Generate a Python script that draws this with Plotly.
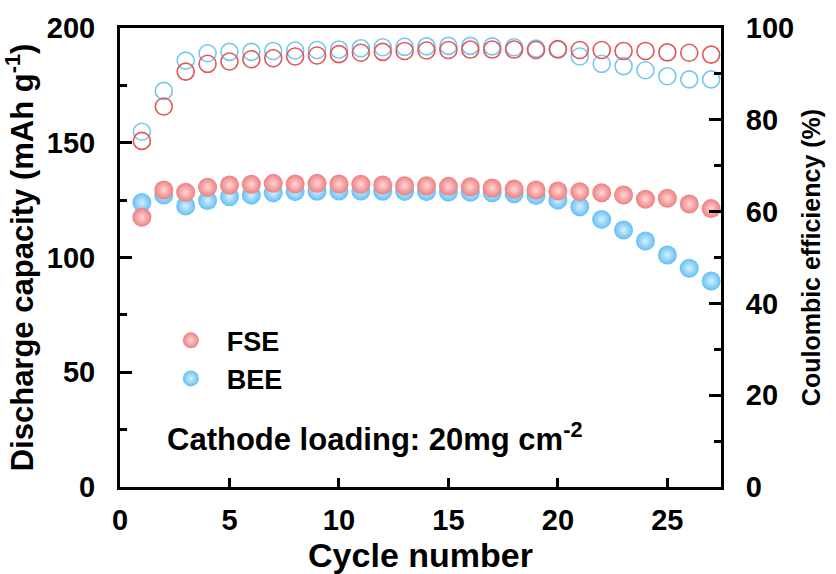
import plotly.graph_objects as go

cycles = list(range(1, 28))
fse_capacity = [117.5, 129.4, 128.4, 130.6, 131.6, 131.9, 132.3, 132.0, 132.3, 132.0, 131.9, 131.6, 131.3, 131.3,
                131.0, 130.8, 130.3, 129.8, 129.4, 129.0, 128.7, 128.2, 127.2, 125.4, 125.8, 123.3, 121.3]
bee_capacity = [124.0, 127.2, 122.4, 124.8, 126.5, 127.2, 128.2, 128.7, 128.9, 129.0, 129.0, 128.9, 128.8, 128.7,
                128.5, 128.4, 128.2, 127.8, 127.0, 125.0, 122.1, 116.6, 112.0, 107.2, 101.1, 95.3, 89.8]
fse_ce = [75.4, 82.9, 90.5, 92.2, 92.7, 93.2, 93.4, 93.8, 94.0, 94.3, 94.6, 94.8, 95.0, 95.1,
          95.2, 95.3, 95.3, 95.3, 95.2, 95.4, 95.2, 95.2, 95.0, 95.0, 94.7, 94.6, 94.2]
bee_ce = [77.4, 86.3, 92.9, 94.5, 94.8, 94.8, 95.0, 95.1, 95.2, 95.3, 95.6, 95.8, 95.9, 96.0,
          96.1, 96.1, 96.0, 95.8, 95.5, 95.3, 93.8, 92.2, 91.7, 90.8, 89.5, 88.8, 88.8]

FONT = "Liberation Sans, Arial, sans-serif"
RED_EDGE = "#EE7F80"
RED_LINE = "#E0585C"
BLUE_EDGE = "#62C0F4"
BLUE_LINE = "#78C8EA"

fig = go.Figure()

# Coulombic efficiency (hollow) on right axis
fig.add_trace(go.Scatter(x=cycles, y=bee_ce, mode="markers", yaxis="y2", showlegend=False,
                         marker=dict(symbol="circle-open", size=17, color=BLUE_LINE, line=dict(width=1.6))))
fig.add_trace(go.Scatter(x=cycles, y=fse_ce, mode="markers", yaxis="y2", showlegend=False,
                         marker=dict(symbol="circle-open", size=17, color=RED_LINE, line=dict(width=1.6))))

# Discharge capacity (filled spheres)
fig.add_trace(go.Scatter(x=cycles, y=bee_capacity, mode="markers", name="BEE", legendrank=2,
                         marker=dict(symbol="circle", size=19, color=BLUE_EDGE, line=dict(width=0),
                                     gradient=dict(type="radial", color="#D8F0FF"))))
fig.add_trace(go.Scatter(x=cycles, y=fse_capacity, mode="markers", name="FSE", legendrank=1,
                         marker=dict(symbol="circle", size=19, color=RED_EDGE, line=dict(width=0),
                                     gradient=dict(type="radial", color="#FFD6D6"))))

axis_common = dict(showline=True, linecolor="black", linewidth=3, ticks="inside", tickwidth=3,
                   tickcolor="black", showgrid=False, zeroline=False,
                   tickfont=dict(family=FONT, size=29, color="black", weight="bold"))

fig.update_layout(
    width=836, height=574,
    margin=dict(l=120, r=115, t=28, b=87),
    paper_bgcolor="white", plot_bgcolor="white",
    font=dict(family=FONT, color="black"),
    xaxis=dict(range=[0, 27.45], dtick=5, tick0=0, ticklen=9, mirror=True,
               title=dict(text="<b>Cycle number</b>", font=dict(family=FONT, size=34), standoff=2),
               ticklabelstandoff=5, **axis_common),
    yaxis=dict(range=[0, 200], dtick=50, tick0=0, ticklen=12,
               minor=dict(dtick=25, ticks="inside", ticklen=7, tickwidth=3, tickcolor="black"),
               title=dict(text="<b>Discharge capacity (mAh g<sup>-1</sup>)</b>", font=dict(family=FONT, size=31),
                          standoff=6),
               ticklabelstandoff=16, **axis_common),
    yaxis2=dict(range=[0, 100], dtick=20, tick0=0, ticklen=12, overlaying="y", side="right",
                minor=dict(dtick=10, ticks="inside", ticklen=7, tickwidth=3, tickcolor="black"),
                title=dict(text="<b>Coulombic efficiency (%)</b>", font=dict(family=FONT, size=25),
                           standoff=10),
                ticklabelstandoff=16, **axis_common),
    legend=dict(x=0.058, y=0.372, xanchor="left", yanchor="top", bgcolor="rgba(0,0,0,0)",
                font=dict(family=FONT, size=27, weight="bold"), itemwidth=62, tracegroupgap=0),
    annotations=[dict(text="<b>Cathode loading: 20mg cm<sup>-2</sup></b>", xref="paper", yref="paper",
                      x=0.075, y=0.109, xanchor="left", yanchor="middle", showarrow=False,
                      font=dict(family=FONT, size=31, color="black"))],
)

fig.write_html("out.html")
